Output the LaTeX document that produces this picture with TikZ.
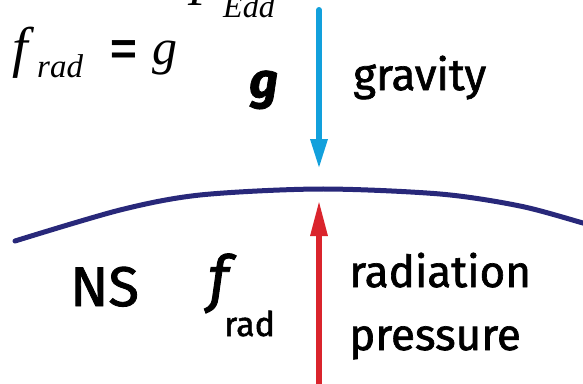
\documentclass[tikz,border=0pt]{standalone}
\usepackage{fontspec}
\setmainfont{Liberation Serif}
\newfontfamily\labelfont[FakeBold=1.5]{Fira Sans}
\newfontfamily\eqfont{Liberation Sans}
\usetikzlibrary{arrows.meta}
\definecolor{nsblue}{RGB}{40,40,122}
\definecolor{gravblue}{RGB}{18,160,220}
\definecolor{radred}{RGB}{218,36,44}
\begin{document}
\begin{tikzpicture}[x=1pt,y=-1pt]
\tikzstyle{lbl}=[inner sep=0pt,anchor=base west,font=\labelfont]
\tikzstyle{eqn}=[inner sep=0pt,anchor=base west]
\tikzstyle{force}=[line width=6pt,-{Triangle[length=30pt,width=16pt]}]
\clip (0,0) rectangle (583,383);
% formula, cut at the top edge
\node[eqn] (fedd) at (188,5) {\fontsize{48}{48}\selectfont\itshape F};
\node[eqn] (edd) at (223,17) {\fontsize{32}{32}\selectfont\itshape Edd};
\node[eqn] (frad) at (12,66) {\fontsize{56}{56}\selectfont\itshape f};
\node[eqn] (fradsub) at (37,77) {\fontsize{33}{33}\selectfont\itshape rad};
\node[eqn] (equal) at (110,64) {\fontsize{46}{46}\selectfont\eqfont\bfseries =};
\node[eqn] (geq) at (152,64) {\fontsize{50}{50}\selectfont\itshape g};
% labels
\node[lbl] (gsym) at (249,98) {\fontsize{50}{50}\selectfont\bfseries\itshape g};
\node[lbl] (gravity) at (353,90) {\fontsize{44}{44}\selectfont gravity};
\node[lbl] (ns) at (70,306) {\fontsize{56}{56}\selectfont NS};
\node[lbl] (fsym) at (208,300) {\fontsize{62}{62}\selectfont\itshape f};
\node[lbl] (fsub) at (224,336) {\fontsize{34}{34}\selectfont rad};
\node[lbl,align=left,font=\labelfont\fontsize{44}{63}\selectfont] (radpress) at (349,350) {radiation\\pressure};
% surface of the star
\draw[nsblue,line width=5pt,line cap=round] plot[smooth] coordinates {(15,241) (120,210) (200,195) (320,189) (440,194) (520,206) (583,223) (600,228)};
% forces
\coordinate (gtop) at (319,10);
\coordinate (gtip) at (319,169);
\coordinate (rbot) at (319,400);
\coordinate (rtip) at (319,200);
\draw[force,gravblue,line cap=round] (gtop) -- (gtip);
\draw[force,radred,-{Triangle[length=36pt,width=16pt]}] (rbot) -- (rtip);
\end{tikzpicture}
\end{document}
